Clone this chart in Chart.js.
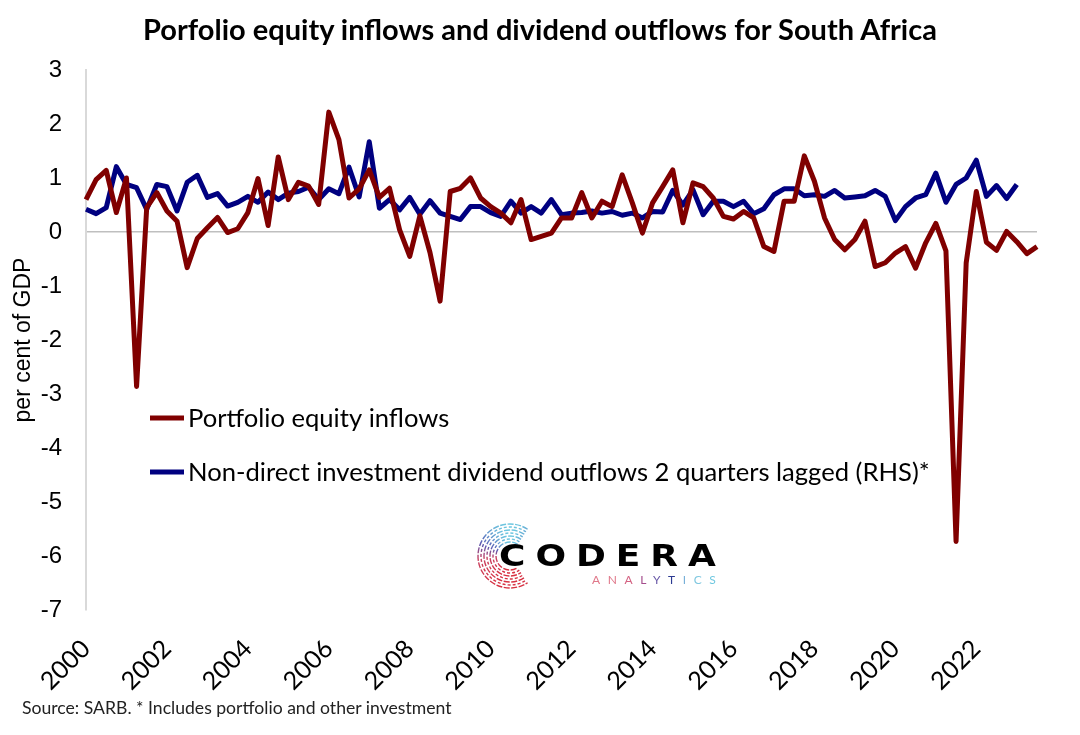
<!DOCTYPE html>
<html><head><meta charset="utf-8">
<script src="https://cdn.jsdelivr.net/npm/chart.js@4.4.0/dist/chart.umd.min.js"></script>
<style>
html,body{margin:0;padding:0;background:#fff;}
#wrap{position:relative;width:1080px;height:735px;overflow:hidden;background:#fff;}
canvas{position:absolute;left:0;top:0;}
#title{position:absolute;left:0;top:12px;width:1080px;text-align:center;font:bold 29px Lato;color:#000;line-height:34px;}
#source{position:absolute;left:22px;top:697px;font:17.6px Lato;color:#222;line-height:22px;}
#codera{position:absolute;left:499px;top:541px;font:bold 30px 'DejaVu Sans';letter-spacing:8.3px;line-height:30px;color:#000;transform:scaleX(1.2);transform-origin:0 0;}
#analytics{position:absolute;left:592px;top:574px;font:12px Lato;letter-spacing:7.6px;line-height:12px;}
#ring{position:absolute;left:466px;top:518px;}
</style></head><body>
<div id="wrap">
<canvas id="c" width="1080" height="735"></canvas>
<div id="title">Porfolio equity inflows and dividend outflows for South Africa</div>
<svg id="ring" width="80" height="80"></svg>
<div id="codera">CODERA</div>
<div id="analytics"><span style="color:#e0788a">A</span><span style="color:#e0788a">N</span><span style="color:#d46282">A</span><span style="color:#a44c8c">L</span><span style="color:#6a5aa8">Y</span><span style="color:#2c3a92">T</span><span style="color:#78b0d8">I</span><span style="color:#80c8e0">C</span><span style="color:#70c8e0">S</span></div>
<div id="source">Source: SARB. * Includes portfolio and other investment</div>
</div>
<script>
// ---- data ----
const years = ['2000','2001','2002','2003','2004','2005','2006','2007','2008','2009','2010','2011','2012','2013','2014','2015','2016','2017','2018','2019','2020','2021','2022','2023'];
const quarterNames = ['Q1','Q2','Q3','Q4'];
const lastQuarterIndex = 94; // 2023Q3
const categories = [];
years.forEach(y => quarterNames.forEach(q => categories.push(y + q)));
categories.length = lastQuarterIndex + 1;

const tickYears = ['2000','2002','2004','2006','2008','2010','2012','2014','2016','2018','2020','2022'];

const equityInflows = [
 0.60, 0.97, 1.14, 0.36, 1.00, -2.86, 0.45, 0.73,
 0.39, 0.20, -0.66, -0.12, 0.08, 0.27, -0.01, 0.06,
 0.36, 0.99, 0.12, 1.39, 0.60, 0.92, 0.85, 0.51,
 2.22, 1.71, 0.63, 0.80, 1.15, 0.64, 0.81, 0.04,
 -0.45, 0.30, -0.38, -1.28, 0.75, 0.81, 1.00, 0.63,
 0.47, 0.35, 0.17, 0.60, -0.14, -0.08, -0.02, 0.26,
 0.26, 0.73, 0.26, 0.57, 0.47, 1.06, 0.54, -0.02,
 0.54, 0.84, 1.15, 0.17, 0.91, 0.84, 0.63, 0.29,
 0.24, 0.38, 0.26, -0.27, -0.36, 0.57, 0.57, 1.41,
 0.94, 0.26, -0.14, -0.33, -0.14, 0.20, -0.64, -0.57,
 -0.39, -0.27, -0.67, -0.20, 0.16, -0.35, -5.73, -0.57,
 0.75, -0.19, -0.34, 0.01, -0.18, -0.40, -0.27
];

const dividendOutflows = [
 0.42, 0.34, 0.45, 1.21, 0.88, 0.82, 0.42, 0.88,
 0.84, 0.39, 0.92, 1.05, 0.64, 0.71, 0.48, 0.55,
 0.66, 0.55, 0.74, 0.60, 0.72, 0.75, 0.83, 0.60,
 0.80, 0.71, 1.20, 0.65, 1.67, 0.44, 0.60, 0.41,
 0.64, 0.33, 0.58, 0.35, 0.29, 0.23, 0.47, 0.47,
 0.36, 0.29, 0.57, 0.35, 0.47, 0.35, 0.60, 0.32,
 0.35, 0.36, 0.39, 0.35, 0.38, 0.31, 0.35, 0.26,
 0.38, 0.37, 0.77, 0.50, 0.78, 0.32, 0.57, 0.57,
 0.47, 0.57, 0.34, 0.43, 0.69, 0.80, 0.80, 0.67,
 0.69, 0.66, 0.77, 0.63, 0.65, 0.67, 0.77, 0.66,
 0.21, 0.47, 0.63, 0.69, 1.09, 0.55, 0.88, 1.00,
 1.33, 0.66, 0.86, 0.62, 0.88, null, null
];

const seriesLabels = ['Portfolio equity inflows', 'Non-direct investment dividend outflows 2 quarters lagged (RHS)*'];
const seriesColors = ['#800000', '#000080'];

// ---- logo ring ----
(function(){
  const svg = document.getElementById('ring');
  const ns = 'http://www.w3.org/2000/svg';
  const defs = document.createElementNS(ns,'defs');
  defs.innerHTML = '<linearGradient id="g" x1="0" y1="0" x2="0" y2="1"><stop offset="0" stop-color="#6cc8e0"/><stop offset="0.3" stop-color="#5a5ab4"/><stop offset="0.55" stop-color="#c84060"/><stop offset="1" stop-color="#d83040"/></linearGradient>';
  svg.appendChild(defs);
  const cx = 44, cy = 38;
  [14,17,20,23,26,29,32].forEach((r,k)=>{
    const p = document.createElementNS(ns,'path');
    const sx = cx + 0.55*r, sy = cy - 0.835*r, ex = cx + 0.55*r, ey = cy + 0.835*r;
    p.setAttribute('d',`M ${sx} ${sy} A ${r} ${r} 0 1 0 ${ex} ${ey}`);
    p.setAttribute('fill','none');
    p.setAttribute('stroke','url(#g)');
    p.setAttribute('stroke-width','1.4');
    p.setAttribute('stroke-dasharray', k%2 ? '3 2' : '6 1.5');
    svg.appendChild(p);
  });
})();

// ---- chart ----
const legendY = [418, 472];
const inLegend = {
  id: 'inLegend',
  afterDraw(chart) {
    const ctx = chart.ctx;
    chart.data.datasets.forEach((ds, i) => {
      const y = legendY[i];
      ctx.save();
      ctx.strokeStyle = ds.borderColor;
      ctx.lineWidth = 5;
      ctx.beginPath(); ctx.moveTo(150, y); ctx.lineTo(184, y); ctx.stroke();
      ctx.fillStyle = '#000';
      ctx.font = '25.6px Lato';
      ctx.textBaseline = 'middle';
      ctx.fillText(ds.label, 188, y + 1);
      ctx.restore();
    });
  }
};

new Chart(document.getElementById('c'), {
  type: 'line',
  data: {
    labels: categories,
    datasets: [
      { label: seriesLabels[0], data: equityInflows, borderColor: seriesColors[0], backgroundColor: seriesColors[0],
        borderWidth: 5, pointRadius: 0, tension: 0, borderJoinStyle: 'round', yAxisID: 'y' },
      { label: seriesLabels[1], data: dividendOutflows, borderColor: seriesColors[1], backgroundColor: seriesColors[1],
        borderWidth: 5, pointRadius: 0, tension: 0, borderJoinStyle: 'round', yAxisID: 'y1' }
    ]
  },
  options: {
    responsive: false,
    animation: false,
    devicePixelRatio: 1,
    layout: { padding: { left: 0, right: 43, top: 70, bottom: 30 } },
    plugins: { legend: { display: false }, tooltip: { enabled: false }, title: { display: false } },
    scales: {
      x: {
        type: 'category',
        offset: false,
        grid: { display: false, drawTicks: false },
        border: { display: false },
        afterFit: s => { s.height = 95; s.paddingLeft = 0; s.paddingRight = 0; },
        ticks: {
          autoSkip: false, maxRotation: 45, minRotation: 45, padding: 24,
          color: '#000', font: { family: 'Lato', size: 25 },
          callback: function(v, i) {
            const lab = categories[i];
            const yr = lab.slice(0, 4);
            return (lab.endsWith('Q1') && tickYears.includes(yr)) ? yr : '';
          }
        }
      },
      y: {
        position: 'left',
        min: -7, max: 3,
        afterFit: s => { s.width = 86; },
        grid: {
          drawTicks: false,
          color: c => (c.tick && c.tick.value === 0) ? '#bfbfbf' : 'rgba(0,0,0,0)',
          lineWidth: 1.5
        },
        border: { display: true, color: '#d9d9d9', width: 2 },
        ticks: { stepSize: 1, padding: 24, color: '#000', font: { family: 'Liberation Sans', size: 24 } },
        title: { display: true, text: 'per cent of GDP', color: '#000', font: { family: 'Liberation Sans', size: 23 }, padding: { top: 10, bottom: 0 } }
      },
      y1: { position: 'right', min: -7, max: 3, display: false }
    }
  },
  plugins: [inLegend]
});
</script>
</body></html>
